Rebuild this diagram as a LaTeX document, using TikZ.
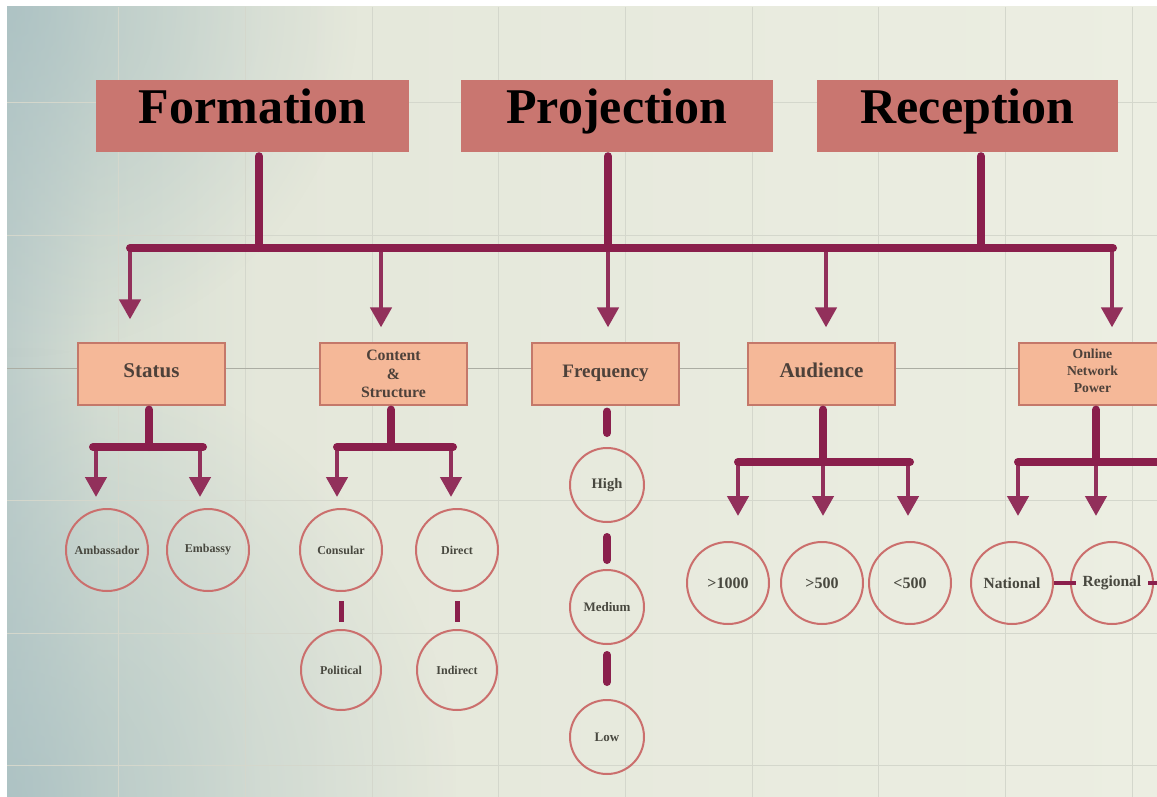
\documentclass[tikz,border=0pt]{standalone}
\usepackage{fontspec}
\setmainfont{Liberation Serif}
\usetikzlibrary{arrows.meta,fadings}

\definecolor{maroon}{HTML}{8A1F4C}
\definecolor{dropc}{HTML}{92305B}
\definecolor{titlefill}{HTML}{C97670}
\definecolor{subfill}{HTML}{F5B898}
\definecolor{subedge}{HTML}{C4786A}
\definecolor{subtext}{HTML}{4D413A}
\definecolor{ringc}{HTML}{CB6F6D}
\definecolor{ringtext}{HTML}{48483F}
\definecolor{gridc}{HTML}{D4D7CC}
\definecolor{gridd}{HTML}{ABADA3}
\definecolor{mistA}{HTML}{A6BEC1}
\definecolor{mistB}{HTML}{BFCECB}
\definecolor{mistC}{HTML}{D6DED3}
\definecolor{creamA}{HTML}{E4E7DA}
\definecolor{creamB}{HTML}{ECEEE2}

% wall colour: bluish on the left, cream towards the right
\pgfdeclarehorizontalshading{wall}{100bp}{color(0bp)=(mistB); color(25bp)=(mistB);
  color(29bp)=(mistC); color(36bp)=(creamA);
  color(75bp)=(creamB); color(100bp)=(creamB)}
\tikzfading[name=haze, inner color=transparent!30, outer color=transparent!100]

\tikzset{
  titlebox/.style={rectangle, fill=titlefill, inner sep=0pt, minimum width=#1,
    minimum height=72pt, text height=30pt, text depth=14pt, text=black,
    font=\fontsize{50}{60}\selectfont\bfseries},
  subbox/.style={rectangle, fill=subfill, draw=subedge, line width=1.2pt,
    inner sep=0pt, minimum width=147pt, minimum height=62pt, text=subtext, align=center},
  onebox/.style={subbox, text height=13pt, text depth=7pt},
  boxtext/.style={text=subtext, align=center, inner sep=0pt},
  ring/.style={circle, draw=ringc, line width=2pt, inner sep=0pt, minimum size=#1,
    text=ringtext},
  trunk/.style={draw=maroon, line width=8pt, line cap=round},
  drop/.style={draw=dropc, line width=4.5pt, -{Triangle[width=21pt,length=20pt]}},
  link/.style={draw=maroon, line width=5pt},
  hlink/.style={draw=maroon, line width=4pt},
  gridline/.style={draw=gridc, line width=1pt},
}

\begin{document}
\begin{tikzpicture}[x=1pt,y=-1pt]
\useasboundingbox (0,0) rectangle (1157,797);
\clip (0,0) rectangle (1157,797);

% wall and grid
\fill[white] (0,0) rectangle (1157,797);
\shade[shading=wall] (7,7) rectangle (1157,797);
\begin{scope}
  \clip (7,7) rectangle (1157,797);
  \fill[mistA, path fading=haze] (-443,347) rectangle (457,1247);
  \fill[mistA, path fading=haze] (-343,-343) rectangle (357,357);
\end{scope}
\foreach \gx in {118,245,372,498,625,752,878,1005,1132}
  \draw[gridline] (\gx,7) -- (\gx,797);
\foreach \gy in {103,235,500,633,765}
  \draw[gridline] (7,\gy) -- (1157,\gy);
\draw[gridline, draw=gridd] (7,368) -- (1157,368);

% top level
\node[titlebox=313pt] (form) at (252.5,116) {Formation};
\node[titlebox=312pt] (proj) at (617,116) {Projection};
\node[titlebox=301pt] (recp) at (967.5,116) {Reception};

% second level
\node[onebox, font=\fontsize{21}{24}\selectfont\bfseries] (stat) at (151.5,374) {Status};
\node[subbox, font=\fontsize{15.8}{18.5}\selectfont\bfseries] (cont) at (393.5,374) {Content\\\&\\Structure};
\node[onebox, font=\fontsize{19}{22}\selectfont\bfseries] (freq) at (605.5,374) {Frequency};
\node[onebox, font=\fontsize{21}{24}\selectfont\bfseries] (aud) at (821.5,374) {Audience};
\node[subbox] (onl) at (1092.5,374) {};
\node[boxtext, font=\fontsize{13.7}{17}\selectfont\bfseries] (onltext) at ([yshift=3pt]onl.center) {Online\\Network\\Power};

% third level
\node[ring=82pt, font=\fontsize{12}{14}\selectfont\bfseries] (amb) at (107,550) {Ambassador};
\node[ring=82pt, font=\fontsize{12}{14}\selectfont\bfseries] (emb) at (208,550) {Embassy};
\node[ring=82pt, font=\fontsize{12}{14}\selectfont\bfseries] (cons) at (341,550) {Consular};
\node[ring=82pt, font=\fontsize{12}{14}\selectfont\bfseries] (dirc) at (457,550) {Direct};
\node[ring=80pt, font=\fontsize{12}{14}\selectfont\bfseries] (pol) at (341,670) {Political};
\node[ring=80pt, font=\fontsize{12}{14}\selectfont\bfseries] (indr) at (457,670) {Indirect};
\node[ring=74pt, font=\fontsize{14.5}{16}\selectfont\bfseries] (high) at (607,485) {High};
\node[ring=74pt, font=\fontsize{13}{15}\selectfont\bfseries] (med) at (607,607) {Medium};
\node[ring=74pt, font=\fontsize{13}{15}\selectfont\bfseries] (low) at (607,737) {Low};
\node[ring=82pt, font=\fontsize{16}{18}\selectfont\bfseries] (aone) at (728,583) {>1000};
\node[ring=82pt, font=\fontsize{16}{18}\selectfont\bfseries] (atwo) at (822,583) {>500};
\node[ring=82pt, font=\fontsize{16}{18}\selectfont\bfseries] (athree) at (910,583) {<500};
\node[ring=82pt, font=\fontsize{15.5}{17}\selectfont\bfseries] (nat) at (1012,583) {National};
\node[ring=82pt, font=\fontsize{15.5}{17}\selectfont\bfseries] (reg) at (1112,583) {Regional};

% main bus
\coordinate (busL) at (130,248);
\coordinate (busR) at (1113,248);
\coordinate (fs) at ([xshift=6.5pt]form.south);
\coordinate (ps) at ([xshift=-9pt]proj.south);
\coordinate (rs) at ([xshift=13.5pt]recp.south);
\coordinate (b1) at (130,248);
\coordinate (b2) at (381,248);
\coordinate (b3) at (608,248);
\coordinate (b4) at (826,248);
\coordinate (b5) at (1112,248);
\draw[drop, shorten >=23pt] (b1) -- (b1 |- stat.north);
\draw[drop, shorten >=15pt] (b2) -- (b2 |- cont.north);
\draw[drop, shorten >=15pt] (b3) -- (b3 |- freq.north);
\draw[drop, shorten >=15pt] (b4) -- (b4 |- aud.north);
\draw[drop, shorten >=15pt] (b5) -- (b5 |- onl.north);
\draw[trunk, shorten <=4pt] (fs) -- (fs |- busL);
\draw[trunk, shorten <=4pt] (ps) -- (ps |- busL);
\draw[trunk, shorten <=4pt] (rs) -- (rs |- busL);
\draw[trunk] (busL) -- (busR);

% Status branch
\coordinate (ss) at ([xshift=-2.5pt]stat.south);
\coordinate (sL) at (93,447);
\coordinate (sR) at (203,447);
\coordinate (s1) at (96,447);
\coordinate (s2) at (200,447);
\draw[drop, shorten >=11pt] (s1) -- (s1 |- amb.north);
\draw[drop, shorten >=11pt] (s2) -- (s2 |- emb.north);
\draw[trunk, shorten <=4pt] (ss) -- (ss |- sL);
\draw[trunk] (sL) -- (sR);

% Content & Structure branch
\coordinate (cs) at ([xshift=-2.5pt]cont.south);
\coordinate (cL) at (337,447);
\coordinate (cR) at (453,447);
\coordinate (c1) at (337,447);
\coordinate (c2) at (451,447);
\draw[drop, shorten >=11pt] (c1) -- (c1 |- cons.north);
\draw[drop, shorten >=11pt] (c2) -- (c2 |- dirc.north);
\draw[trunk, shorten <=4pt] (cs) -- (cs |- cL);
\draw[trunk] (cL) -- (cR);
\draw[link, shorten <=9pt, shorten >=7pt] (cons) -- (pol);
\draw[link, shorten <=9pt, shorten >=7pt] (dirc) -- (indr);

% Frequency scale
\draw[trunk, shorten <=6pt, shorten >=14pt] (freq.south -| high) -- (high.north);
\draw[trunk, shorten <=14pt, shorten >=9pt] (high) -- (med);
\draw[trunk, shorten <=10pt, shorten >=17pt] (med) -- (low);

% Audience branch
\coordinate (as) at ([xshift=1.5pt]aud.south);
\coordinate (aL) at (738,462);
\coordinate (aR) at (910,462);
\coordinate (a1) at (738,462);
\coordinate (a2) at (823,462);
\coordinate (a3) at (908,462);
\draw[drop, shorten >=25pt] (a1) -- (a1 |- aone.north);
\draw[drop, shorten >=25pt] (a2) -- (a2 |- atwo.north);
\draw[drop, shorten >=25pt] (a3) -- (a3 |- athree.north);
\draw[trunk, shorten <=4pt] (as) -- (as |- aL);
\draw[trunk] (aL) -- (aR);

% Online Network Power branch
\coordinate (os) at ([xshift=3.5pt]onl.south);
\coordinate (oL) at (1018,462);
\coordinate (oR) at (1190,462);
\coordinate (o1) at (1018,462);
\coordinate (o2) at (1096,462);
\coordinate (onext) at (1190,583);
\draw[drop, shorten >=25pt] (o1) -- (o1 |- nat.north);
\draw[drop, shorten >=25pt] (o2) -- (o2 |- reg.north);
\draw[trunk, shorten <=4pt] (os) -- (os |- oL);
\draw[trunk] (oL) -- (oR);
\draw[hlink] (nat.east) -- ([xshift=6pt]reg.west);
\draw[hlink] ([xshift=-6pt]reg.east) -- (onext);
\end{tikzpicture}
\end{document}
